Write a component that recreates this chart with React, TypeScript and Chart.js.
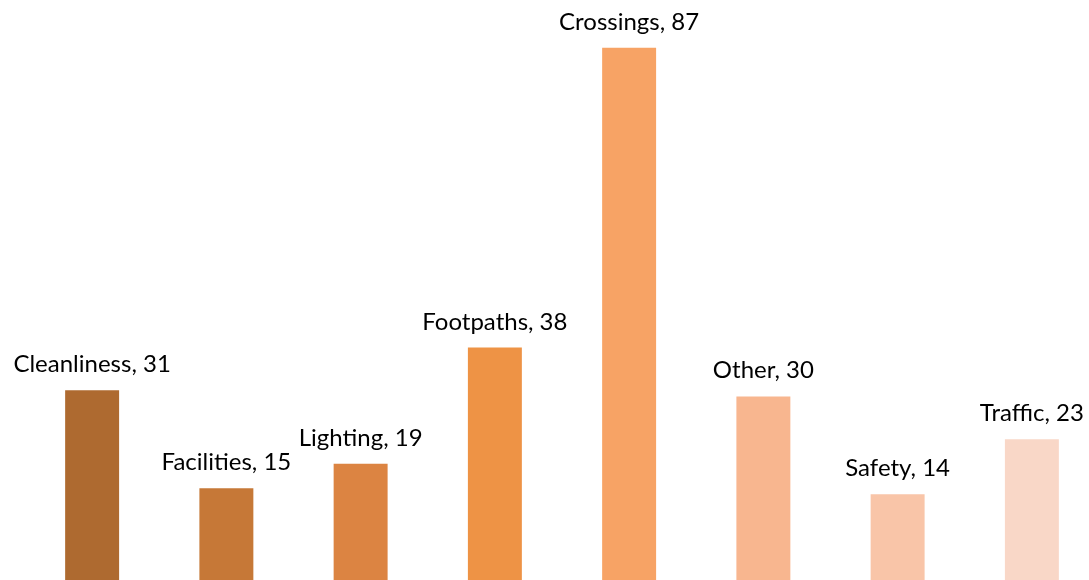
import React, { useEffect, useRef } from "react";
import { Chart, registerables } from "chart.js";

Chart.register(...registerables);

const categories = [
  "Cleanliness",
  "Facilities",
  "Lighting",
  "Footpaths",
  "Crossings",
  "Other",
  "Safety",
  "Traffic",
];
const counts = [31, 15, 19, 38, 87, 30, 14, 23];
const barColors = [
  "#AE6A30",
  "#C67837",
  "#DC8442",
  "#EE9345",
  "#F7A365",
  "#F8B68F",
  "#F9C5A8",
  "#F9D7C7",
];

const LABEL_FONT = '24px Lato, "Open Sans", sans-serif';

// Writes "Category, value" above each bar.
const barLabels = {
  id: "barLabels",
  afterDatasetsDraw(chart: any) {
    const { ctx } = chart;
    const meta = chart.getDatasetMeta(0);
    ctx.save();
    ctx.font = LABEL_FONT;
    ctx.fillStyle = "#000000";
    ctx.textAlign = "center";
    ctx.textBaseline = "alphabetic";
    meta.data.forEach((bar: any, i: number) => {
      ctx.fillText(`${categories[i]}, ${counts[i]}`, bar.x, bar.y - 18);
    });
    ctx.restore();
  },
};

export default function App() {
  const canvasRef = useRef<HTMLCanvasElement>(null);

  useEffect(() => {
    if (!canvasRef.current) return;
    const chart = new Chart(canvasRef.current, {
      type: "bar",
      data: {
        labels: categories,
        datasets: [
          {
            data: counts,
            backgroundColor: barColors,
            borderWidth: 0,
            barPercentage: 0.402,
            categoryPercentage: 1,
          },
        ],
      },
      options: {
        animation: false,
        responsive: false,
        maintainAspectRatio: false,
        layout: { padding: { left: 25, right: 0, top: 0, bottom: 0 } },
        plugins: {
          legend: { display: false },
          tooltip: { enabled: false },
        },
        scales: {
          x: { display: false, offset: true },
          y: { display: false, min: 0, max: 94.8 },
        },
      },
      plugins: [barLabels],
    });
    return () => chart.destroy();
  }, []);

  return (
    <div
      style={{
        position: "fixed",
        left: 0,
        top: 0,
        width: 1089,
        height: 580,
        overflow: "hidden",
        background: "#ffffff",
      }}
    >
      <canvas ref={canvasRef} width={1099} height={580} />
    </div>
  );
}
